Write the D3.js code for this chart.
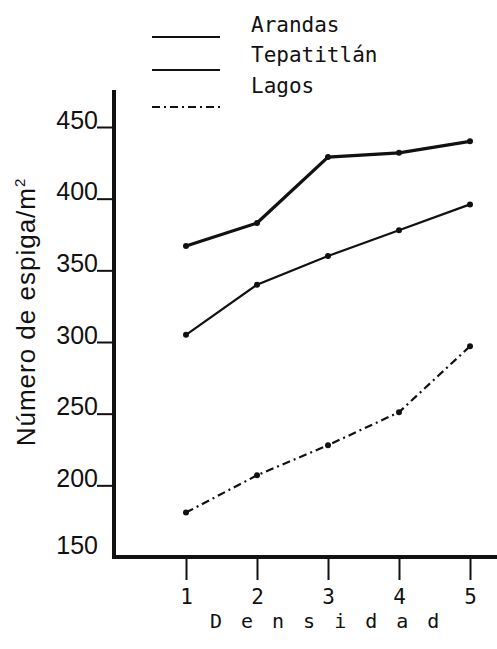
<!DOCTYPE html>
<html>
<head>
<meta charset="utf-8">
<script src="https://cdn.jsdelivr.net/npm/d3@7"></script>
<style>
  body { margin: 0; background: #fff; }
  svg { display: block; }
</style>
</head>
<body>
<div id="chart"></div>
<script>
// values
var densidad = [1, 2, 3, 4, 5];
var arandas = [367, 383, 429, 432, 440];
var tepatitlan = [305, 340, 360, 378, 396];
var lagos = [181, 207, 228, 251, 297];
var yTicks = [150, 200, 250, 300, 350, 400, 450];
var seriesNames = ['Arandas', 'Tepatitlán', 'Lagos'];

var width = 497;
var height = 649;
var ink = '#111';

var series = [
  {name: seriesNames[0], values: arandas, width: 3.2, dash: null},
  {name: seriesNames[1], values: tepatitlan, width: 2.2, dash: null},
  {name: seriesNames[2], values: lagos, width: 2.2, dash: '8,4,2,4'}
];

var svg = d3.select('#chart')
  .append('svg')
  .attr('width', width)
  .attr('height', height);

var x = d3.scaleLinear().domain([1, 5]).range([186, 470]);
var y = d3.scaleLinear().domain([150, 450]).range([557, 127]);

// y axis
var yAxis = d3.axisLeft(y)
  .tickValues(yTicks)
  .tickSizeInner(17)
  .tickSizeOuter(0)
  .tickFormat(d3.format('d'));

var gy = svg.append('g')
  .attr('transform', 'translate(114,0)')
  .call(yAxis);
gy.select('.domain').remove();
gy.selectAll('.tick line')
  .attr('stroke', ink)
  .attr('stroke-width', 2)
  .attr('x2', -17)
  .style('display', function(d){ return d === 150 ? 'none' : null; });
gy.selectAll('.tick text')
  .attr('x', -16)
  .attr('dy', function(d){ return d === 150 ? -4 : 1; })
  .attr('fill', ink)
  .style('font-family', '"Liberation Sans", Arial, sans-serif')
  .style('font-size', '25px')
  .attr('text-anchor', 'end');

// x axis
var xAxis = d3.axisBottom(x)
  .tickValues(densidad)
  .tickSizeInner(23)
  .tickSizeOuter(0)
  .tickFormat(d3.format('d'));

var gx = svg.append('g')
  .attr('transform', 'translate(0,557)')
  .call(xAxis);
gx.select('.domain').remove();
gx.selectAll('.tick line')
  .attr('stroke', ink)
  .attr('stroke-width', 2);
gx.selectAll('.tick text')
  .attr('y', 47)
  .attr('dy', 0)
  .attr('fill', ink)
  .style('font-family', '"DejaVu Sans Mono", monospace')
  .style('font-size', '21px');

// heavy frame lines
svg.append('line')
  .attr('x1', 114).attr('x2', 114)
  .attr('y1', 90).attr('y2', 559)
  .attr('stroke', ink)
  .attr('stroke-width', 4);
svg.append('line')
  .attr('x1', 112).attr('x2', 497)
  .attr('y1', 557).attr('y2', 557)
  .attr('stroke', ink)
  .attr('stroke-width', 4);

// series
var line = d3.line()
  .x(function(d, i){ return x(densidad[i]); })
  .y(function(d){ return y(d); });

series.forEach(function(s){
  svg.append('path')
    .datum(s.values)
    .attr('d', line)
    .attr('fill', 'none')
    .attr('stroke', ink)
    .attr('stroke-width', s.width)
    .attr('stroke-dasharray', s.dash);

  svg.selectAll(null)
    .data(s.values)
    .enter()
    .append('circle')
    .attr('cx', function(d, i){ return x(densidad[i]); })
    .attr('cy', function(d){ return y(d); })
    .attr('r', 3)
    .attr('fill', ink);
});

// legend
var legendLineY = [37, 70, 107];
var legendTextY = [32, 62, 93];

var legend = svg.selectAll('.legend')
  .data(series)
  .enter()
  .append('g')
  .attr('class', 'legend');

legend.append('line')
  .attr('x1', 152).attr('x2', 220)
  .attr('y1', function(d, i){ return legendLineY[i]; })
  .attr('y2', function(d, i){ return legendLineY[i]; })
  .attr('stroke', ink)
  .attr('stroke-width', 2.2)
  .attr('stroke-dasharray', function(d){ return d.dash; });

legend.append('text')
  .attr('x', 251)
  .attr('y', function(d, i){ return legendTextY[i]; })
  .attr('fill', ink)
  .style('font-family', '"DejaVu Sans Mono", monospace')
  .style('font-size', '21px')
  .text(function(d){ return d.name; });

// axis titles
svg.append('text')
  .attr('x', 210)
  .attr('y', 628)
  .attr('fill', ink)
  .style('font-family', '"DejaVu Sans Mono", monospace')
  .style('font-size', '20px')
  .style('letter-spacing', '19px')
  .text('Densidad');

var ytitle = svg.append('text')
  .attr('transform', 'translate(35,312) rotate(-90)')
  .attr('text-anchor', 'middle')
  .attr('fill', ink)
  .style('font-family', '"Liberation Sans", Arial, sans-serif')
  .style('font-size', '26px')
  .style('letter-spacing', '1px');
ytitle.append('tspan').text('Número de espiga/m');
ytitle.append('tspan')
  .attr('dy', -10)
  .style('font-size', '15px')
  .text('2');
</script>
</body>
</html>
